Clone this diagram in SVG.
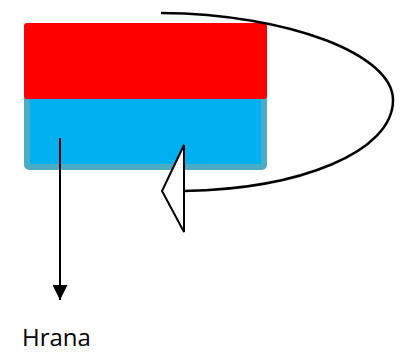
<svg xmlns="http://www.w3.org/2000/svg" width="400" height="353" viewBox="0 0 400 353">
<style>
.conn{fill:none;stroke:#000;stroke-width:2.5}
.lbl{font-family:"Open Sans","Liberation Sans",sans-serif;font-size:24px;fill:#000}
</style>
<defs>
<marker id="ah" markerWidth="15" markerHeight="15" refX="15" refY="7.5" orient="auto" markerUnits="userSpaceOnUse">
<path d="M0,0 L15,7.5 L0,15 Z" fill="#000"/>
</marker>
</defs>
<rect width="400" height="353" fill="#fff"/>
<g id="blue">
<rect x="27" y="94" width="237" height="73" rx="2" fill="#00B0F0" stroke="#4BACC6" stroke-width="6"/>
</g>
<g id="red">
<rect x="24" y="23" width="243" height="76" rx="3" fill="#FF0000"/>
</g>
<g id="connectors">
<path class="conn" d="M161,13 C290,14 393,55 393,100 C393,152 300,189 184,191"/>
<path d="M162,191 L184,145 L184,232 Z" fill="#fff" stroke="#000" stroke-width="2"/>
<line x1="60" y1="138" x2="60" y2="300" stroke="#000" stroke-width="2" marker-end="url(#ah)"/>
</g>
<g id="label">
<text class="lbl" x="22" y="346">Hrana</text>
</g>
</svg>
